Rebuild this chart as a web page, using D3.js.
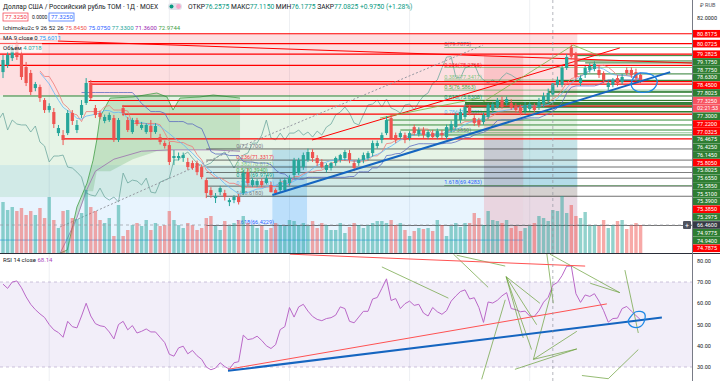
<!DOCTYPE html>
<html>
<head>
<meta charset="UTF-8">
<script src="https://cdn.jsdelivr.net/npm/d3@7"></script>
<style>
body { margin: 0; background: #fff; }
svg text { font-family: Roboto, "Noto Sans", sans-serif; }
</style>
</head>
<body>
<svg id="chart" width="720" height="381"></svg>
<script>
// ---- data ----
// daily candles [open, high, low, close]
const candles = [
[77.94,79.22,77.49,78.85],[78.47,79.45,78.25,79.22],[78.99,79.97,78.77,79.75],[80.05,80.35,78.85,79.07],
[79.22,79.60,77.35,77.57],[78.32,78.70,76.89,77.12],[77.87,78.10,76.22,76.44],[76.74,77.20,76.50,77.04],
[76.82,77.00,75.70,75.99],[75.84,75.99,74.87,75.09],[75.09,75.60,74.90,75.39],[74.94,75.24,73.74,74.04],
[73.36,73.97,73.14,73.74],[73.21,73.59,72.46,72.84],[73.36,75.09,73.21,74.87],[74.87,75.09,73.97,74.27],
[73.59,74.34,73.36,73.97],[74.72,75.84,74.49,75.47],[75.62,77.49,75.47,77.12],[77.12,77.35,75.84,75.99],
[75.24,75.47,74.49,74.72],[74.87,75.05,74.40,74.57],[74.27,74.75,74.10,74.57],[74.34,74.90,74.20,74.72],
[74.49,74.72,72.69,72.84],[72.84,74.49,72.69,74.34],[75.24,75.47,74.64,74.87],[74.34,74.57,73.44,73.59],
[73.44,74.50,73.30,74.34],[74.34,74.50,73.90,74.04],[73.74,74.20,73.60,73.97],[73.44,74.10,73.30,73.97],
[73.89,74.34,72.84,73.44],[73.44,74.10,73.30,73.89],[73.06,73.30,72.50,72.69],[72.61,72.80,72.20,72.39],
[72.46,72.69,70.96,71.19],[71.49,72.09,70.96,71.64],[71.49,71.90,71.30,71.64],[71.49,71.90,71.20,71.71],
[71.19,71.50,70.60,70.81],[71.11,71.30,70.60,70.74],[71.11,71.30,70.20,70.43],[70.81,71.00,69.90,70.06],
[69.83,69.98,68.48,68.86],[69.08,69.30,68.50,68.71],[68.48,68.86,68.11,68.63],[68.93,69.40,68.70,69.23],
[68.86,69.10,68.30,68.56],[68.18,68.48,67.88,68.33],[68.33,68.70,68.10,68.56],[68.56,68.80,68.00,68.18],
[68.86,70.58,68.71,70.36],[70.43,70.70,69.40,69.61],[69.46,70.00,69.30,69.83],[69.46,69.90,69.30,69.76],
[69.76,69.95,69.30,69.46],[69.61,70.20,69.50,69.98],[69.46,69.70,68.90,68.93],[69.08,69.20,68.70,68.86],
[69.08,69.90,68.90,69.68],[69.08,70.00,68.95,69.83],[69.61,70.20,69.40,69.98],[70.21,71.50,70.00,71.34],
[70.36,71.50,70.20,71.34],[70.81,71.90,70.60,71.71],[71.34,72.20,71.20,71.94],[71.94,72.15,71.20,71.49],
[71.49,71.70,70.90,71.11],[71.19,71.40,70.70,70.81],[70.59,71.10,70.40,70.96],[70.74,71.20,70.55,71.11],
[71.11,71.60,70.90,71.49],[71.34,71.80,71.15,71.71],[71.49,72.10,71.30,71.94],[71.86,72.10,71.10,71.34],
[71.11,71.30,70.50,70.74],[71.11,71.50,70.90,71.34],[71.34,71.90,71.10,71.71],[71.49,72.00,71.30,71.86],
[71.86,72.80,71.60,72.61],[72.39,72.80,72.20,72.61],[72.84,73.40,72.60,73.21],[73.36,74.64,73.21,74.34],
[74.49,74.72,72.84,72.99],[73.21,73.40,72.60,72.84],[73.06,73.50,72.90,73.36],[73.21,73.40,72.60,72.84],
[72.99,73.50,72.80,73.36],[73.81,74.00,73.20,73.36],[73.29,73.80,73.10,73.59],[73.59,73.80,73.00,73.21],
[73.06,73.60,72.90,73.44],[73.36,73.60,72.90,73.06],[73.06,73.70,72.90,73.51],[73.36,73.60,73.00,73.21],
[73.06,74.00,72.90,73.81],[73.59,74.30,73.40,74.04],[73.81,74.90,73.60,74.72],[74.34,75.20,74.10,74.94],
[74.57,75.54,74.40,75.32],[75.32,75.50,74.70,74.87],[74.49,74.70,73.90,74.12],[74.34,74.50,73.80,73.97],
[74.19,74.90,74.00,74.72],[74.57,75.60,74.40,75.47],[75.09,75.70,74.90,75.54],[75.32,76.00,75.20,75.84],
[75.84,76.10,75.20,75.32],[75.62,76.10,75.40,75.92],[75.62,75.90,75.10,75.24],[75.39,75.60,74.90,75.09],
[75.32,75.50,74.70,74.87],[75.02,75.70,74.80,75.47],[75.17,75.70,75.00,75.54],[75.39,75.60,74.90,75.09],
[75.32,76.00,75.10,75.69],[75.54,76.40,75.30,76.14],[75.84,76.70,75.60,76.37],[76.2575,77.115,76.1775,77.0825],
[76.97,77.60,76.80,77.35],[76.97,78.40,76.80,78.25],[78.25,79.30,78.10,79.07],[79.80,80.00,78.90,79.10],
[79.22,79.45,77.35,77.57],[77.12,77.70,76.90,77.49],[77.72,78.40,77.50,78.25],[78.10,78.60,77.90,78.40],
[78.17,78.75,78.00,78.55],[78.10,78.40,77.50,77.72],[77.87,78.00,77.10,77.35],[76.82,77.30,76.60,77.12],
[76.97,77.50,76.80,77.35],[77.49,77.70,76.90,77.12],[77.19,77.80,77.00,77.57],[78.10,78.30,77.70,77.87],
[78.10,78.30,77.50,77.72],[77.94,78.20,77.30,77.49],[77.72,77.90,77.10,77.325]
];
// volume per candle (bn)
const volumes = [
5.1,4.3,4.6,4.2,4.5,3.8,4.2,3.8,4.5,3.5,5.6,3.3,2.5,4.2,4.3,3.5,3.4,4.0,6.3,4.6,
4.2,3.3,3.0,3.5,1.7,4.8,1.7,2.3,2.8,3.0,2.7,3.3,2.3,3.0,2.7,2.8,4.2,3.3,2.8,2.5,
3.0,2.8,2.3,2.5,3.5,3.7,2.7,2.3,3.2,2.7,3.0,3.3,3.7,3.0,2.8,2.5,2.7,2.3,2.5,3.0,
2.8,2.7,3.3,3.2,2.8,3.0,2.7,3.2,2.5,3.0,2.8,2.3,2.3,3.0,2.0,2.6,3.0,2.8,2.5,2.8,
3.0,3.2,3.2,3.0,3.3,2.8,3.0,2.3,1.7,2.2,2.5,2.4,2.5,2.2,3.3,2.8,1.7,2.7,3.0,2.6,
3.0,3.0,4.0,3.5,2.8,4.2,3.3,3.2,3.0,3.3,2.5,2.7,2.2,2.5,2.7,3.0,3.7,3.5,3.2,4.3,
4.2,5.7,4.0,4.8,3.7,3.5,4.1,2.7,2.8,2.7,3.3,2.5,2.8,3.2,3.3,2.4,2.8,3.0,2.8
];
// RSI 14 per candle
const rsi = [
69,67,70,70.5,67.3,63,59.5,57,55,53.3,50,47.5,46.2,44,51.5,49,48.4,54,60,54,
50.4,49.4,49,46.5,43.2,50,51.5,47.5,49.5,46,46.8,47.9,46.5,46.5,44,41.5,36,35.1,39,39.8,
36.2,37.8,35.3,33.6,30,28.7,29.5,32,30.2,29,32,32.5,45,42.9,43.3,44.5,42.5,40,38.7,40.5,
47.6,49,58,53.5,58.3,59.5,56.3,53.8,52.4,51.8,52.8,53.2,54.4,58.3,57.5,51.5,50.8,53.5,56.2,56.2,
62,62.7,67,71.5,61.3,62.2,57.5,59.8,61,59,59.5,55.4,54,58,56,54.8,56.5,61,63.4,65.5,
66.3,62,62.6,58,51,60.6,60.1,61.4,63.5,65,57.5,57,56,56.3,54,53.8,56.5,60.5,62.8,68.5,
69.8,73,77.4,77.5,64.5,60.4,63.9,63.2,64.5,61,56.5,51.1,52.8,53,57.5,58.5,56.3,54.2,52.2
];
// Ichimoku cloud (leading spans), [candle index, price]
const spanA = [[12.3,64.35],[13.9,64.58],[16,67.81],[18.2,69.61],[19.5,71.33],[20.3,72.84],[21,74.57],
  [23.2,75.99],[28.1,76.07],[33.3,76.37],[35.5,76.07],[36.8,75.09],[38.3,75.99],[42.6,76.07],[45.5,76.22],[51.3,75.99]];
const spanB = [[12.3,64.3],[14,65.5],[16,67],[18,69],[20,70.5],[24,71.4],[30,72],[36,72.1],[45,72.1],[51.3,72.0]];
// labelled horizontal levels on the price scale, top to bottom
const levelValues = [80.8175,80.0725,79.2825,79.1750,78.7750,78.6300,78.4500,77.8025,77.3250,null,
  77.3000,77.2200,77.0325,76.4675,76.4250,76.1450,75.8050,75.8025,75.6550,75.5850,75.5100,75.3900,
  75.3850,75.2975,66.4600,74.9775,74.9400,74.7875];
const levelKinds = ['r','r','r','g','g','g','r','g','c','t','g','r','r','g','g','g','r','g','g','g','g','g',
  'r','g','x','g','g','r'];
// where each drawn level starts (candle index)
const levelStart = [-1,-1,-1,124,124,126,-1,124,null,null,120,18.5,19,118,118,0,18.6,100,100,100,100,100,
  25.8,100,null,100,100,25.8];
// extra unlabelled rays [price, start index]
const extraRed = [[72.92, 13]];
const extraGreen = [[74.34, 83], [73.97, 84], [73.59, 86], [73.22, 88]];
const volBlue = [65.33, -1, 112.6];
// fibonacci retracements: [level-0 price, level-1 price, start index, label index]
const fibs = [[79.7875,73.385,95.5,95.5],[72.17,68.618,44,50.5]];
const fibRatios = [0,0.236,0.382,0.5,0.618,0.786,1,1.618];
// trend lines [i1, price1, i2, price2]
const blueTrend = [58.3,68.71,144.4,77.94];
const redTrends = [[66.9,72.84,133.5,79.75],[-0.65,80.42,149.1,78.62]];
const greenTrends = [[103.9,75.69,123.4,79.97],[123.4,79.97,129.2,79.15],[81.6,74.49,103.2,75.99]];
const dashTrend = [[12.3,66.3],[51.3,72.32],[103.9,79.97]];
const mainLoop = [[136.4,77.49],[137.9,77.87],[140.5,77.72],[141.6,77.19],[140.5,76.59],[137.9,76.44],[136.1,76.82]];
// shaded tool areas [i1, i2, price top, price bottom]
const boxes = [
  [-1, 124.3, 80.8175, 76.2, 'rgba(242,54,69,0.16)'],
  [-1, 124.3, 76.2, 68.56, 'rgba(76,175,80,0.14)'],
  [-1, 124.3, 70.96, 64.3, 'rgba(33,150,243,0.10)'],
  [58.3, 65.8, 72.1, 64.3, 'rgba(33,150,243,0.22)'],
  [104.1, 112.6, 79.22, 64.3, 'rgba(242,54,69,0.16)'],
  [104.1, 124.3, 72.84, 69.3, 'rgba(33,150,243,0.16)'],
  [112.6, 124.3, 69.3, 64.3, 'rgba(242,54,69,0.14)']
];
// RSI drawings [i1, rsi1, i2, rsi2]
const rsiRed = [[48.7,28.9,130.7,59.7],[62.1,83.1,126,77.5]];
const rsiBlue = [48.7,28.2,142.6,53.3];
const rsiGreen = [
[82,77.1,96.4,62.4],[97.5,83.1,105,67.5],[98.2,82.6,108.7,77.5],[108.9,72.5,112.6,43.7],
[108.9,72.5,114.4,38.2],[108.9,72.5,115.5,49.9],[108.9,72.5,116.2,60],[114.8,33.6,124.2,46.8],
[114.8,33.6,124.2,38.5],[114.8,33.6,118.8,66.3],[110.8,28.9,124.2,38.5],[103.6,24.2,108.7,61.6],
[117.7,83.4,119.1,60],[118.4,83.1,133.5,65],[127.1,69.4,133.5,65],[134.6,75.6,137.5,46],
[125.3,26,131,24.5],[131,24.5,137.5,38.2]
];
const rsiLoop = [[135.7,53.2],[137,56],[138.7,55.5],[138.9,52.2],[137.9,49],[136.1,49],[135.3,51.3]];
const rsiTicks = [80,70,60,50,40,30];

// ---- drawing ----
const PW = 692, MB = 253, RT = 254;
const svg = d3.select('#chart');
const x = d3.scaleLinear().domain([0, 138]).range([3, 640.6]);
const y = d3.scaleLinear().domain([82, 66.46]).range([18, 225]);
const yv = d3.scaleLinear().domain([0, 5.6]).range([MB, 197]);
const yr = d3.scaleLinear().domain([70, 30]).range([282, 367]);
const UP = '#26a69a', DN = '#ef5350';

// indicators derived from the candles
const closes = candles.map(c => c[3]);
const midN = (n, i) => {
  const s = candles.slice(Math.max(0, i - n + 1), i + 1);
  return (d3.max(s, c => c[1]) + d3.min(s, c => c[2])) / 2;
};
const ma9 = closes.map((c, i) => [i, d3.mean(closes.slice(Math.max(0, i - 8), i + 1))]).slice(8);
const tenkan = candles.map((c, i) => [i, midN(9, i)]).slice(8);
const kijun = candles.map((c, i) => [i, midN(26, i)]).slice(17);
const chikou = closes.map((c, i) => [i - 26, c]).filter(d => d[0] >= -1);

const defs = svg.append('defs');
defs.append('clipPath').attr('id', 'cm').append('rect').attr('width', PW).attr('height', MB);
defs.append('clipPath').attr('id', 'cr').append('rect').attr('y', RT).attr('width', PW).attr('height', 381 - RT);

const main = svg.append('g').attr('clip-path', 'url(#cm)');
const rp = svg.append('g').attr('clip-path', 'url(#cr)');

// grid
const gridX = d3.range(10, 140, 26);
main.selectAll('.gx').data(gridX).enter().append('line')
  .attr('x1', d => x(d)).attr('x2', d => x(d)).attr('y1', 0).attr('y2', MB)
  .attr('stroke', '#eef0f3');
rp.selectAll('.gx').data(gridX).enter().append('line')
  .attr('x1', d => x(d)).attr('x2', d => x(d)).attr('y1', RT).attr('y2', 381)
  .attr('stroke', '#eef0f3');

// position / range tool zones
main.selectAll('.box').data(boxes).enter().append('rect')
  .attr('x', d => x(d[0])).attr('width', d => x(d[1]) - x(d[0]))
  .attr('y', d => y(d[2])).attr('height', d => y(d[3]) - y(d[2]))
  .attr('fill', d => d[4]);

// ichimoku cloud
const area = d3.area().x(d => x(d[0])).y0(d => y(d[1])).y1(d => y(d[2]));
const cloud = spanA.map(a => {
  const b = spanB.find((v, k) => spanB[k + 1] === undefined || spanB[k + 1][0] > a[0]);
  return [a[0], a[1], b ? b[1] : a[1]];
});
main.append('path').attr('d', area(cloud)).attr('fill', 'rgba(67,160,71,0.22)');
const pl = d3.line().x(d => x(d[0])).y(d => y(d[1]));
main.append('path').attr('d', pl(spanA)).attr('fill', 'none').attr('stroke', '#43a047').attr('stroke-width', 0.8);
main.append('path').attr('d', pl(spanB)).attr('fill', 'none').attr('stroke', '#9c6fae').attr('stroke-width', 0.8);
main.append('path').attr('d', pl(chikou)).attr('fill', 'none').attr('stroke', '#6fa8a0').attr('stroke-width', 0.8);

// fib lines and labels
const fibColors = ['#787b86','#f23645','#81c784','#4caf50','#089981','#64b5f6','#787b86','#2962ff'];
fibs.forEach((f, k) => {
  fibRatios.forEach((r, j) => {
    const p = f[0] - (f[0] - f[1]) * r;
    main.append('line').attr('x1', x(f[2])).attr('x2', PW).attr('y1', y(p)).attr('y2', y(p))
      .attr('stroke', k ? '#222' : '#43a047').attr('stroke-width', 0.8).attr('opacity', k ? 0.8 : 0.7);
    main.append('text').attr('x', x(f[3])).attr('y', y(p) - 1).attr('font-size', 5.5)
      .attr('fill', fibColors[j]).text(r + '(' + p.toFixed(4) + ')');
  });
});

// horizontal levels
levelValues.forEach((v, i) => {
  if (levelStart[i] === null) return;
  const k = levelKinds[i];
  main.append('line').attr('x1', x(levelStart[i])).attr('x2', PW).attr('y1', y(v)).attr('y2', y(v))
    .attr('stroke', k === 'r' ? '#ff0000' : '#2e7d32').attr('stroke-width', k === 'r' ? 1.2 : 1);
});
extraRed.forEach(e => main.append('line').attr('x1', x(e[1])).attr('x2', PW).attr('y1', y(e[0])).attr('y2', y(e[0]))
  .attr('stroke', '#ff0000').attr('stroke-width', 1.2));
extraGreen.forEach(e => main.append('line').attr('x1', x(e[1])).attr('x2', PW).attr('y1', y(e[0])).attr('y2', y(e[0]))
  .attr('stroke', '#388e3c').attr('stroke-width', 1));
main.append('line').attr('x1', x(volBlue[1])).attr('x2', x(volBlue[2])).attr('y1', y(volBlue[0])).attr('y2', y(volBlue[0]))
  .attr('stroke', '#42a5f5').attr('stroke-width', 0.8);

// trend lines
const seg = (g, s, sc, col, w, dash) => g.append('line')
  .attr('x1', x(s[0])).attr('y1', sc(s[1])).attr('x2', x(s[2])).attr('y2', sc(s[3]))
  .attr('stroke', col).attr('stroke-width', w).attr('stroke-dasharray', dash || null);
redTrends.forEach(s => seg(main, s, y, '#ff0000', 1));
greenTrends.forEach(s => seg(main, s, y, '#7cb342', 0.8));
main.append('path').attr('d', pl(dashTrend))
  .attr('fill', 'none').attr('stroke', '#9598a1').attr('stroke-dasharray', '2,2');

// volume
main.selectAll('.vol').data(volumes).enter().append('rect')
  .attr('x', (d, i) => x(i) - 1.7).attr('width', 3.4)
  .attr('y', d => yv(d)).attr('height', d => MB - yv(d))
  .attr('fill', (d, i) => candles[i][3] >= candles[i][0] ? 'rgba(38,166,154,0.5)' : 'rgba(239,83,80,0.5)');

// moving lines
main.append('path').attr('d', pl(kijun)).attr('fill', 'none').attr('stroke', '#5c6bc0').attr('stroke-width', 0.8);
main.append('path').attr('d', pl(tenkan)).attr('fill', 'none').attr('stroke', '#ef7a78').attr('stroke-width', 0.8);
main.append('path').attr('d', pl(ma9)).attr('fill', 'none').attr('stroke', '#64b5f6').attr('stroke-width', 0.8);

// candles
const cg = main.selectAll('.c').data(candles).enter().append('g');
cg.append('line').attr('x1', (d, i) => x(i)).attr('x2', (d, i) => x(i))
  .attr('y1', d => y(d[1])).attr('y2', d => y(d[2]))
  .attr('stroke', d => d[3] >= d[0] ? UP : DN);
cg.append('rect').attr('x', (d, i) => x(i) - 1.6).attr('width', 3.2)
  .attr('y', d => y(Math.max(d[0], d[3])))
  .attr('height', d => Math.max(1, Math.abs(y(d[0]) - y(d[3]))))
  .attr('fill', d => d[3] >= d[0] ? UP : DN);

seg(main, blueTrend, y, '#1565c0', 2);
main.append('path').attr('d', d3.line().curve(d3.curveCardinalClosed).x(d => x(d[0])).y(d => y(d[1]))(mainLoop))
  .attr('fill', 'none').attr('stroke', '#1e88e5').attr('stroke-width', 1.3);

// crosshair
main.append('line').attr('x1', 0).attr('x2', PW).attr('y1', y(66.46)).attr('y2', y(66.46))
  .attr('stroke', '#9598a1').attr('stroke-dasharray', '3,3').attr('stroke-width', 0.7);
svg.append('line').attr('x1', x(119)).attr('x2', x(119)).attr('y1', 0).attr('y2', 381)
  .attr('stroke', '#9598a1').attr('stroke-dasharray', '3,3').attr('stroke-width', 0.7);
svg.append('rect').attr('x', 683).attr('y', y(66.46) - 4).attr('width', 8).attr('height', 8).attr('rx', 1).attr('fill', '#50535e');
svg.append('text').attr('x', 687).attr('y', y(66.46) + 2.5).attr('text-anchor', 'middle').attr('font-size', 7)
  .attr('fill', '#fff').text('+');

// RSI pane
rp.append('rect').attr('x', 0).attr('width', PW).attr('y', yr(70)).attr('height', yr(30) - yr(70))
  .attr('fill', 'rgba(126,87,194,0.1)');
[70, 30].forEach(v => rp.append('line').attr('x1', 0).attr('x2', PW).attr('y1', yr(v)).attr('y2', yr(v))
  .attr('stroke', '#b8a9cc').attr('stroke-dasharray', '3,3').attr('stroke-width', 0.7));
rp.append('path').attr('d', d3.line().x((d, i) => x(i)).y(d => yr(d))(rsi))
  .attr('fill', 'none').attr('stroke', '#ba68c8').attr('stroke-width', 1);
rsiGreen.forEach(s => seg(rp, s, yr, '#689f38', 0.7));
rsiRed.forEach(s => seg(rp, s, yr, '#ff5252', 1));
seg(rp, rsiBlue, yr, '#1565c0', 2);
rp.append('path').attr('d', d3.line().curve(d3.curveCardinalClosed).x(d => x(d[0])).y(d => yr(d[1]))(rsiLoop))
  .attr('fill', 'none').attr('stroke', '#1e88e5').attr('stroke-width', 1.3);

// pane separator and price axis
svg.append('line').attr('x1', 0).attr('x2', 720).attr('y1', MB + 0.5).attr('y2', MB + 0.5).attr('stroke', '#2a2e39');
svg.append('line').attr('x1', PW + 0.5).attr('x2', PW + 0.5).attr('y1', 0).attr('y2', 381).attr('stroke', '#787b86');

svg.append('text').attr('x', 697).attr('y', y(82) + 2).attr('font-size', 5.5).attr('fill', '#131722').text('82.0000');
svg.append('text').attr('x', 700).attr('y', 7).attr('font-size', 5.5).attr('fill', '#50535e').text('₽ RUB');
svg.selectAll('.rt').data(rsiTicks).enter().append('text').attr('x', 697).attr('y', d => yr(d) + 2)
  .attr('font-size', 5.5).attr('fill', '#131722').text(d => d.toFixed(2));

const kindFill = { r: '#ff0000', g: '#2e7d32', c: '#f7525f', t: '#f7525f', x: '#363a45' };
let prevY = -99;
levelValues.forEach((v, i) => {
  const k = levelKinds[i];
  const ty = v === null ? prevY + 7.75 : Math.max(y(v), prevY + 7.75);
  prevY = ty;
  svg.append('rect').attr('x', PW + 1).attr('y', ty - 3.8).attr('width', 27).attr('height', 7.6)
    .attr('fill', kindFill[k]);
  svg.append('text').attr('x', 697).attr('y', ty + 2).attr('font-size', 5.5).attr('fill', '#fff')
    .text(v === null ? '02:21:53' : v.toFixed(4));
});

// legend
const L = svg.append('g').attr('font-size', 6.5);
L.append('text').attr('x', 3).attr('y', 9).attr('font-size', 6.6).attr('fill', '#131722')
  .text('Доллар США / Российский рубль TOM · 1Д · MOEX');
L.append('rect').attr('x', 168).attr('y', 3).attr('width', 14).attr('height', 7).attr('rx', 3.5).attr('fill', '#e0e3eb');
L.append('circle').attr('cx', 171.5).attr('cy', 6.5).attr('r', 2).attr('fill', '#089981');
L.append('circle').attr('cx', 178.5).attr('cy', 6.5).attr('r', 2.4).attr('fill', '#f7a6c9');
const ohlc = [['ОТКР', '76.2575'], ['МАКС', '77.1150'], ['МИН', '76.1775'], ['ЗАКР', '77.0825'], ['', '+0.9750 (+1.28%)']];
const t1 = L.append('text').attr('x', 188).attr('y', 9).attr('font-size', 6.7);
ohlc.forEach(o => {
  t1.append('tspan').attr('fill', '#131722').text(o[0]);
  t1.append('tspan').attr('fill', '#089981').text(o[1] + ' ');
});
L.append('rect').attr('x', 3).attr('y', 13).attr('width', 25).attr('height', 8).attr('fill', '#fff').attr('stroke', '#f23645').attr('stroke-width', 0.7);
L.append('text').attr('x', 5).attr('y', 19.3).attr('font-size', 6).attr('fill', '#f23645').text('77.3250');
L.append('text').attr('x', 32).attr('y', 19.3).attr('font-size', 5).attr('fill', '#131722').text('0.0000');
L.append('rect').attr('x', 49).attr('y', 13).attr('width', 25).attr('height', 8).attr('fill', '#fff').attr('stroke', '#2962ff').attr('stroke-width', 0.7);
L.append('text').attr('x', 51).attr('y', 19.3).attr('font-size', 6).attr('fill', '#2962ff').text('77.3250');

const rows = [
  [30, 'Ichimoku2c 9 26 52 26', [['75.8450', '#ef5350'], ['75.0750', '#2962ff'], ['77.3300', '#26a69a'], ['71.3600', '#9c27b0'], ['72.9744', '#43a047']], 0],
  [40, 'MA 9 close 0', [['75.6011', '#2196f3']], 58],
  [50, 'Объем', [['4.0718', '#26a69a']], 42]
];
rows.forEach(r => {
  if (r[3]) L.append('rect').attr('x', 0).attr('y', r[0] - 6.5).attr('width', r[3]).attr('height', 9)
    .attr('fill', 'rgba(255,255,255,0.7)');
  const t = L.append('text').attr('x', 3).attr('y', r[0]).attr('font-size', 6);
  t.append('tspan').attr('fill', '#131722').text(r[1] + '  ');
  r[2].forEach(v => t.append('tspan').attr('fill', v[1]).text(v[0] + '  '));
});
const rl = svg.append('text').attr('x', 3).attr('y', RT + 8).attr('font-size', 6);
rl.append('tspan').attr('fill', '#131722').text('RSI 14 close  ');
rl.append('tspan').attr('fill', '#ab47bc').text('68.14');
</script>
</body>
</html>
